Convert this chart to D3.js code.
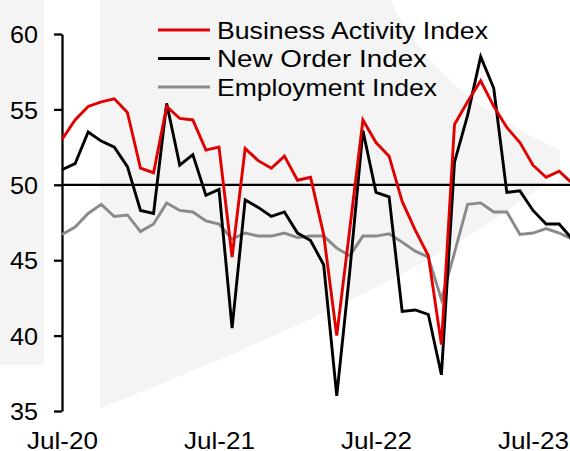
<!DOCTYPE html>
<html>
<head>
<meta charset="utf-8">
<script src="https://cdn.jsdelivr.net/npm/d3@7"></script>
<style>
  body { margin: 0; background: #fff; }
  svg { display: block; font-family: "Liberation Sans", Arial, sans-serif; }
  .axis text { font-size: 24px; fill: #000; }
  .axis path, .axis line { stroke: #000; stroke-width: 2.3px; }
</style>
</head>
<body>
<div id="chart"></div>
<script>
/* constants */
var width = 570;
var height = 451;

/* data - monthly, Jul-20 .. Oct-23 */
var months = d3.timeMonth.range(new Date(2020, 6, 1), new Date(2023, 10, 1));
var businessActivity = [53.0, 54.3, 55.2, 55.5, 55.7, 54.8,
    51.1, 50.8, 55.2, 54.4, 54.3, 52.3, 52.5, 45.2, 52.4, 51.6, 51.1, 51.9,
    50.3, 50.5, 46.7, 40.0, 47.1, 54.3, 52.8, 51.9, 48.9, 47.0, 45.3, 39.4,
    54.0, 55.5, 56.9, 55.2, 53.8, 52.8, 51.3, 50.5, 50.9, 50.1];
var newOrder = [51.0, 51.4, 53.5, 52.9, 52.5, 51.2,
    48.3, 48.1, 55.4, 51.3, 52.0, 49.3, 49.7, 40.5, 49.0, 48.5, 47.9, 48.2,
    46.8, 46.3, 44.7, 36.0, 44.3, 53.6, 49.5, 49.2, 41.6, 41.7, 41.4, 37.4,
    51.5, 54.6, 58.5, 56.4, 49.5, 49.6, 48.3, 47.4, 47.4, 46.4];
var employment = [46.7, 47.2, 48.1, 48.7, 47.9, 48.0,
    46.9, 47.4, 48.8, 48.3, 48.2, 47.6, 47.4, 46.4, 46.8, 46.6, 46.6, 46.8,
    46.5, 46.6, 46.6, 45.8, 45.3, 46.6, 46.6, 46.75, 46.2, 45.6, 45.2, 42.4,
    45.5, 48.7, 48.8, 48.2, 48.2, 46.7, 46.8, 47.1, 46.8, 46.4];
var seriesNames = ["Business Activity Index", "New Order Index", "Employment Index"];
var seriesColors = ["#e00000", "#000000", "#8a8a8a"];
var yTicks = [35, 40, 45, 50, 55, 60];
var xTickLabels = ["Jul-20", "Jul-21", "Jul-22", "Jul-23"];

var svg = d3.select("#chart").append("svg")
    .attr("width", width)
    .attr("height", height);

/* faint watermark in the background */
var wm = svg.append("g").attr("fill", "#f4f4f4");
wm.append("rect").attr("x", 0).attr("y", 0).attr("width", 44).attr("height", 365);
wm.append("path").attr("d", "M100,0 H390 C420,60 470,110 560,150 V170 C470,250 300,330 100,408 Z");

/* scales */
var x = d3.scaleLinear().domain([0, 36]).range([62, 533]);
var y = d3.scaleLinear().domain([35, 60]).range([411, 34]);
var monthIndex = function(d) { return d3.timeMonth.count(months[0], d); };
var fmt = d3.timeFormat("%b-%y");

/* y axis */
var yAxis = svg.append("g")
    .attr("class", "axis")
    .attr("transform", "translate(62,0)")
    .call(d3.axisLeft(y).tickValues(yTicks).tickSize(8).tickSizeOuter(0).tickPadding(16));
yAxis.selectAll("text")
    .attr("dy", "0.36em")
    .attr("textLength", 28)
    .attr("lengthAdjust", "spacingAndGlyphs");

/* x labels (at the bottom, no line) */
var xTickIdx = months.filter(function(d) { return xTickLabels.indexOf(fmt(d)) >= 0; }).map(monthIndex);
var xAxis = svg.append("g")
    .attr("class", "axis")
    .attr("transform", "translate(0,411)")
    .call(d3.axisBottom(x).tickValues(xTickIdx).tickSize(0).tickPadding(21)
        .tickFormat(function(i) { return fmt(months[i]); }));
xAxis.select(".domain").remove();
xAxis.selectAll("text")
    .attr("textLength", 71)
    .attr("lengthAdjust", "spacingAndGlyphs");

/* 50 line */
svg.append("line")
    .attr("x1", 62).attr("x2", width)
    .attr("y1", y(50)).attr("y2", y(50))
    .attr("stroke", "#000").attr("stroke-width", 2.3);

/* series */
var line = d3.line()
    .x(function(d, i) { return x(i); })
    .y(function(d) { return y(d); });

[employment, newOrder, businessActivity].forEach(function(s, k) {
    var c = [2, 1, 0][k];
    svg.append("path")
        .datum(s)
        .attr("fill", "none")
        .attr("stroke", seriesColors[c])
        .attr("stroke-width", 2.9)
        .attr("stroke-linejoin", "miter")
        .attr("d", line);
});

/* legend */
var legendWidths = [271, 210, 220];
var legend = svg.append("g").attr("transform", "translate(158,30)");
var item = legend.selectAll("g").data(seriesNames).enter()
    .append("g")
    .attr("transform", function(d, i) { return "translate(0," + (i * 28.5) + ")"; });
item.append("line")
    .attr("x1", 0).attr("x2", 52)
    .attr("stroke", function(d, i) { return seriesColors[i]; })
    .attr("stroke-width", 2.9);
item.append("text")
    .attr("x", 59)
    .attr("dy", "0.36em")
    .style("font-size", "24.5px")
    .attr("textLength", function(d, i) { return legendWidths[i]; })
    .attr("lengthAdjust", "spacingAndGlyphs")
    .text(function(d) { return d; });
</script>
</body>
</html>
